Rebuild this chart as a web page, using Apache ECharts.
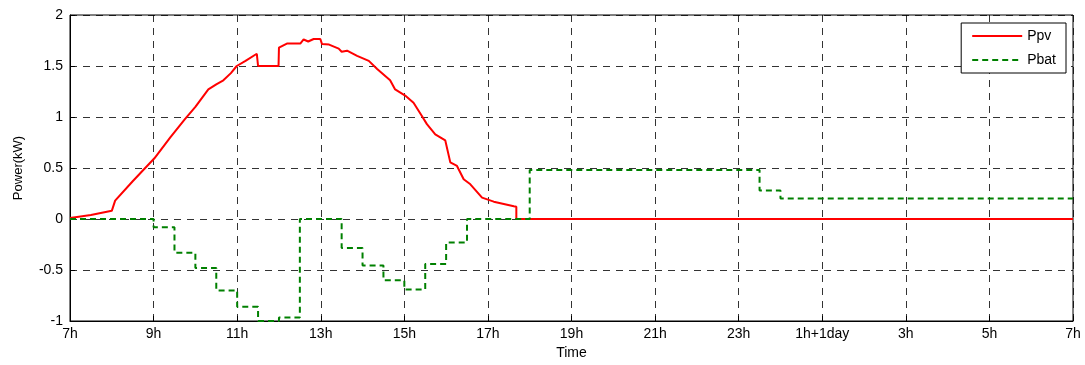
<!DOCTYPE html>
<html>
<head>
<meta charset="utf-8">
<script src="https://cdn.jsdelivr.net/npm/echarts@6/dist/echarts.min.js"></script>
<style>html,body{margin:0;padding:0;background:#fff}#c{width:1085px;height:365px}</style>
</head>
<body>
<div id="c"></div>
<script>
// hours since 0h of day 1 (7 = 7h, 31 = 7h next day)
const xTickValues = [7, 9, 11, 13, 15, 17, 19, 21, 23, 25, 27, 29, 31];
const xTickLabels = ['7h', '9h', '11h', '13h', '15h', '17h', '19h', '21h', '23h', '1h+1day', '3h', '5h', '7h'];

const ppvHours = [7.0, 7.5, 8.0, 8.08, 8.5, 9.02, 9.4, 9.75, 10.0, 10.31, 10.5, 10.67, 10.85, 10.99, 11.2, 11.47, 11.5, 11.99, 12.0, 12.19, 12.51, 12.59, 12.7, 12.83, 12.99, 13.03, 13.2, 13.43, 13.5, 13.63, 13.87, 14.15, 14.35, 14.66, 14.78, 15.02, 15.22, 15.42, 15.54, 15.74, 15.98, 16.1, 16.26, 16.42, 16.58, 16.86, 17.14, 17.62, 17.68, 17.68, 31.0];
const ppvValues = [0.01, 0.04, 0.08, 0.18, 0.37, 0.595, 0.80, 0.98, 1.10, 1.27, 1.32, 1.36, 1.43, 1.50, 1.55, 1.62, 1.50, 1.50, 1.68, 1.72, 1.72, 1.76, 1.74, 1.765, 1.765, 1.715, 1.71, 1.67, 1.64, 1.65, 1.60, 1.55, 1.47, 1.36, 1.27, 1.21, 1.14, 1.01, 0.93, 0.83, 0.77, 0.555, 0.52, 0.39, 0.34, 0.21, 0.17, 0.125, 0.12, 0.0, 0.0];

const pbatHours = [7.0, 9.0, 9.5, 10.0, 10.5, 11.0, 11.5, 12.0, 12.5, 13.5, 14.0, 14.5, 15.0, 15.5, 16.0, 16.5, 18.0, 23.5, 24.0, 31.0];
const pbatValues = [0.0, -0.08, -0.33, -0.48, -0.70, -0.86, -1.0, -0.965, 0.0, -0.285, -0.455, -0.60, -0.69, -0.44, -0.23, 0.0, 0.48, 0.28, 0.20, 0.20];

const yMin = -1, yMax = 2, yStep = 0.5;

const font = 'Liberation Sans, Arial, sans-serif';
const chart = echarts.init(document.getElementById('c'), null, {renderer: 'canvas'});
const gridLine = {show: true, lineStyle: {color: '#000', type: [7, 6], width: 1, opacity: 0.8}};
chart.setOption({
  animation: false,
  backgroundColor: '#fff',
  grid: {left: 70, right: 12, top: 15, bottom: 43, show: true, borderColor: '#000', borderWidth: 1, backgroundColor: 'transparent'},
  legend: {
    orient: 'vertical', right: 19, top: 23, itemWidth: 50, itemHeight: 12, itemGap: 10,
    borderColor: '#000', borderWidth: 1, backgroundColor: '#fff', padding: [6, 10, 6, 10],
    textStyle: {fontFamily: font, fontSize: 14, color: '#000'},
    itemStyle: {opacity: 0},
    data: ['Ppv', 'Pbat']
  },
  xAxis: {
    type: 'value', min: 7, max: 31, interval: 2,
    name: 'Time', nameLocation: 'middle', nameGap: 25,
    nameTextStyle: {fontFamily: font, fontSize: 14, color: '#000'},
    axisLine: {show: true, onZero: false, lineStyle: {color: '#000'}},
    axisTick: {show: true, inside: true, length: 5, lineStyle: {color: '#000'}},
    axisLabel: {
      fontFamily: font, fontSize: 14, color: '#000', margin: 6,
      formatter: v => { const i = xTickValues.indexOf(v); return i >= 0 ? xTickLabels[i] : ''; }
    },
    splitLine: gridLine
  },
  yAxis: {
    type: 'value', min: yMin, max: yMax, interval: yStep,
    name: 'Power(kW)', nameLocation: 'middle', nameGap: 45,
    nameTextStyle: {fontFamily: font, fontSize: 13, color: '#000'},
    axisLine: {show: true, lineStyle: {color: '#000'}},
    axisTick: {show: true, inside: true, length: 5, lineStyle: {color: '#000'}},
    axisLabel: {fontFamily: font, fontSize: 14, color: '#000', margin: 7},
    splitLine: gridLine
  },
  series: [
    {
      name: 'Ppv', type: 'line', symbol: 'none', z: 3,
      data: ppvHours.map((h, i) => [h, ppvValues[i]]),
      lineStyle: {color: '#ff0000', width: 2},
      itemStyle: {color: '#ff0000'}
    },
    {
      name: 'Pbat', type: 'line', symbol: 'none', step: 'end', z: 4,
      data: pbatHours.map((h, i) => [h, pbatValues[i]]),
      lineStyle: {color: '#008000', width: 2, type: [6, 4]},
      itemStyle: {color: '#008000'}
    }
  ]
});
</script>
</body>
</html>
